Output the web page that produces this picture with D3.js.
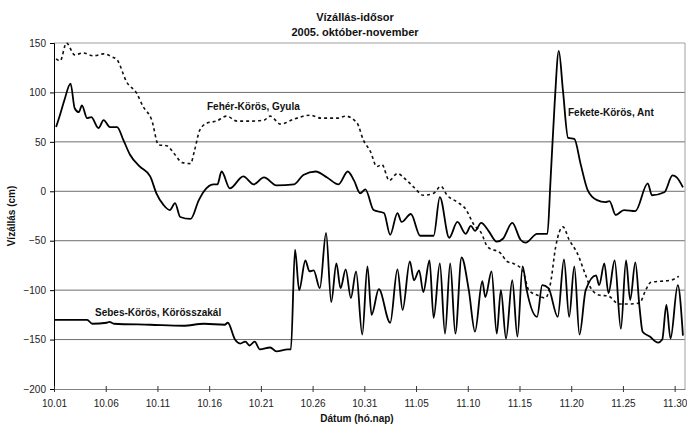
<!DOCTYPE html>
<html>
<head>
<meta charset="utf-8">
<script src="https://cdn.jsdelivr.net/npm/d3@7"></script>
<style>
  body { margin: 0; background: #fff; }
  svg { font-family: "Liberation Sans", Arial, sans-serif; }
</style>
</head>
<body>
<svg id="chart" width="687" height="425"></svg>
<script>
// napok 10.01-tol szamolva (0 = okt. 1.), ertekek cm-ben
const tickLabels = ["10.01", "10.06", "10.11", "10.16", "10.21", "10.26", "10.31",
                    "11.05", "11.10", "11.15", "11.20", "11.25", "11.30"];
const yTicks = [150, 100, 50, 0, -50, -100, -150, -200];

const fekete = [[0.2,65],[0.6,78],[1.0,92],[1.6,109],[2.0,84],[2.4,80],[2.7,87],[3.2,74],[3.6,75],
  [4.3,64],[4.8,72],[5.4,65],[6.1,65],[6.7,52],[7.35,37],[8.3,25],[9.3,15],[9.9,-2],[10.6,-14],
  [11.2,-19],[11.7,-12],[12.2,-26],[13.2,-28],[14.0,-9],[14.5,0],[15.4,7],[15.8,7],[16.2,20],
  [17.0,3],[18.3,15],[19.3,7],[20.3,14],[21.5,6],[23.2,7],[24.1,16.5],[25.3,20],[26.4,14],
  [27.5,7],[28.4,20],[29.0,11],[29.6,-2],[30.1,2],[30.9,-19],[31.9,-22],[32.5,-44],[33.2,-22],
  [33.6,-31],[34.5,-23],[35.4,-45],[36.7,-45],[37.3,-6],[38.2,-47],[39.0,-31],[39.8,-43],
  [40.3,-35],[40.7,-40],[41.3,-32],[42.0,-40],[42.8,-51],[43.4,-48],[44.3,-32],[45.1,-49],
  [45.6,-52],[46.7,-43],[47.7,-43],[48.0,11],[48.4,89],[48.8,142],[49.2,102],[49.7,54],
  [50.3,53],[50.9,28],[51.6,1],[52.5,-9],[53.3,-11],[53.7,-10],[54.3,-24],[55.1,-19],
  [56.2,-20],[57.4,8],[57.8,-4],[59.0,-1],[59.8,16],[60.2,14],[60.8,4]];

const feher = [[0.2,134],[0.6,132],[1.2,150],[2.0,138],[2.8,140],[3.8,137],[4.8,139],[5.6,136],
  [6.1,133],[7.0,111],[8.0,99],[8.6,86],[9.45,72],[10.1,47],[10.9,46],[11.7,37],[12.4,29],
  [13.2,28],[13.6,42],[14.1,62],[14.8,69],[15.7,71],[16.7,76],[17.7,71],[19.0,71],[20.3,72],
  [20.9,76],[21.9,68],[23.2,73],[24.8,77],[25.8,74],[27.4,74],[28.2,76],[29.3,69],[29.9,52],
  [30.6,40],[31.2,25],[31.7,27],[32.4,11],[33.2,18],[34.0,12],[34.8,4],[35.7,-4],[36.7,-2],
  [37.4,5],[38.0,-4],[39.0,-11],[39.8,-18],[40.6,-34],[41.3,-42],[41.9,-56],[43.2,-63],
  [43.8,-71],[44.4,-73],[45.3,-80],[45.9,-100],[46.7,-105],[47.5,-108],[48.0,-93],[48.5,-56],
  [49.2,-36],[49.8,-49],[50.6,-63],[51.4,-85],[51.9,-98],[52.7,-105],[53.6,-106],[54.6,-114],
  [55.6,-114],[56.6,-113],[57.2,-100],[57.7,-92],[59.6,-90],[60.4,-86]];

const sebes = [[0.0,-130],[1.9,-130],[3.2,-130],[3.7,-134],[5.1,-133],[5.35,-132],[5.8,-134],
  [9.3,-135],[12.5,-136],[14.5,-134],[16.5,-135],[16.8,-133],[17.5,-150],[18.0,-154],[18.5,-152],
  [18.9,-156],[19.4,-152],[19.9,-160],[20.9,-158],[21.5,-162],[22.6,-160],[22.9,-160],[23.3,-59],
  [23.7,-100],[24.3,-70],[24.7,-81],[25.1,-80],[25.7,-98],[26.3,-42],[26.8,-112],[27.3,-73],
  [27.7,-98],[28.2,-79],[28.7,-108],[29.2,-81],[29.8,-145],[30.3,-76],[30.7,-125],[31.4,-99],
  [32.5,-133],[33.2,-79],[33.7,-120],[34.4,-71],[34.8,-90],[35.3,-80],[35.7,-102],[36.3,-70],
  [36.7,-128],[37.3,-73],[37.8,-144],[38.3,-73],[38.8,-144],[39.4,-67],[40.1,-100],[40.7,-142],
  [41.4,-91],[41.7,-107],[42.3,-81],[42.8,-144],[43.2,-100],[43.7,-149],[44.3,-90],[44.8,-147],
  [45.3,-76],[45.7,-100],[46.7,-127],[47.2,-95],[47.8,-98],[48.7,-127],[49.3,-69],[49.8,-127],
  [50.3,-76],[50.8,-145],[51.4,-100],[52.4,-85],[52.7,-95],[53.2,-73],[53.6,-103],[54.2,-70],
  [54.8,-139],[55.3,-70],[55.7,-110],[56.2,-72],[56.6,-117],[56.9,-142],[57.6,-147],[58.4,-153],
  [58.8,-150],[59.2,-115],[59.6,-149],[60.3,-95],[60.8,-146]];

const svg = d3.select("#chart");
const plotLeft = 54, plotRight = 685, plotTop = 43, plotBottom = 389;

const x = d3.scaleLinear().domain([0, 61]).range([plotLeft, plotRight]);
const y = d3.scaleLinear().domain([-200, 150]).range([plotBottom, plotTop]);

// racsvonalak
svg.append("g")
  .selectAll("line")
  .data(yTicks.filter(d => d > -200 && d < 150))
  .enter()
  .append("line")
  .attr("x1", plotLeft).attr("x2", plotRight)
  .attr("y1", d => y(d)).attr("y2", d => y(d))
  .attr("stroke", "#6e6e6e")
  .attr("stroke-width", 1);

// keret
svg.append("path")
  .attr("d", `M${plotLeft},${plotTop}H${plotRight}V${plotBottom}`)
  .attr("fill", "none")
  .attr("stroke", "#a0a0a0");

const yAxis = svg.append("g")
  .attr("transform", `translate(${plotLeft},0)`)
  .call(d3.axisLeft(y).tickValues(yTicks).tickSize(4).tickPadding(4));
yAxis.select(".domain").attr("stroke", "#000");
yAxis.selectAll("text").attr("font-size", 10).attr("fill", "#222")
  .attr("font-family", "Liberation Sans, Arial, sans-serif");

const xAxis = svg.append("g")
  .attr("transform", `translate(0,${plotBottom})`)
  .call(d3.axisBottom(x).tickValues(d3.range(0, 61, 5))
    .tickFormat((d, i) => tickLabels[i]).tickSizeInner(3).tickSizeOuter(0).tickPadding(8));
xAxis.select(".domain").attr("stroke", "#808080");
xAxis.selectAll(".tick line").attr("y1", -3).attr("stroke", "#333");
xAxis.selectAll("text").attr("font-size", 10).attr("fill", "#222")
  .attr("font-family", "Liberation Sans, Arial, sans-serif");

const line = d3.line()
  .x(d => x(d[0]))
  .y(d => y(d[1]))
  .curve(d3.curveMonotoneX);

svg.append("path").datum(feher)
  .attr("d", line).attr("fill", "none")
  .attr("stroke", "#111").attr("stroke-width", 1.6)
  .attr("stroke-dasharray", "3,3");

svg.append("path").datum(fekete)
  .attr("d", line).attr("fill", "none")
  .attr("stroke", "#000").attr("stroke-width", 1.8);

svg.append("path").datum(sebes)
  .attr("d", line).attr("fill", "none")
  .attr("stroke", "#000").attr("stroke-width", 1.8);

// feliratok
const bold = (sel) => sel.attr("font-weight", "bold").attr("fill", "#111");

svg.append("text").attr("x", 355).attr("y", 21).attr("text-anchor", "middle")
  .attr("font-size", 11).call(bold).text("Vízállás-idősor");
svg.append("text").attr("x", 355).attr("y", 36).attr("text-anchor", "middle")
  .attr("font-size", 11).call(bold).text("2005. október-november");

svg.append("text").attr("x", 357).attr("y", 422).attr("text-anchor", "middle")
  .attr("font-size", 10).call(bold).text("Dátum (hó.nap)");
svg.append("text").attr("transform", "translate(15,216) rotate(-90)")
  .attr("text-anchor", "middle")
  .attr("font-size", 10).call(bold).text("Vízállás (cm)");

svg.append("text").attr("x", 207).attr("y", 110).attr("font-size", 10).call(bold)
  .text("Fehér-Körös, Gyula");
svg.append("text").attr("x", 568).attr("y", 116).attr("font-size", 10).call(bold)
  .text("Fekete-Körös, Ant");
svg.append("text").attr("x", 95).attr("y", 316).attr("font-size", 10).call(bold)
  .text("Sebes-Körös, Körösszakál");
</script>
</body>
</html>
